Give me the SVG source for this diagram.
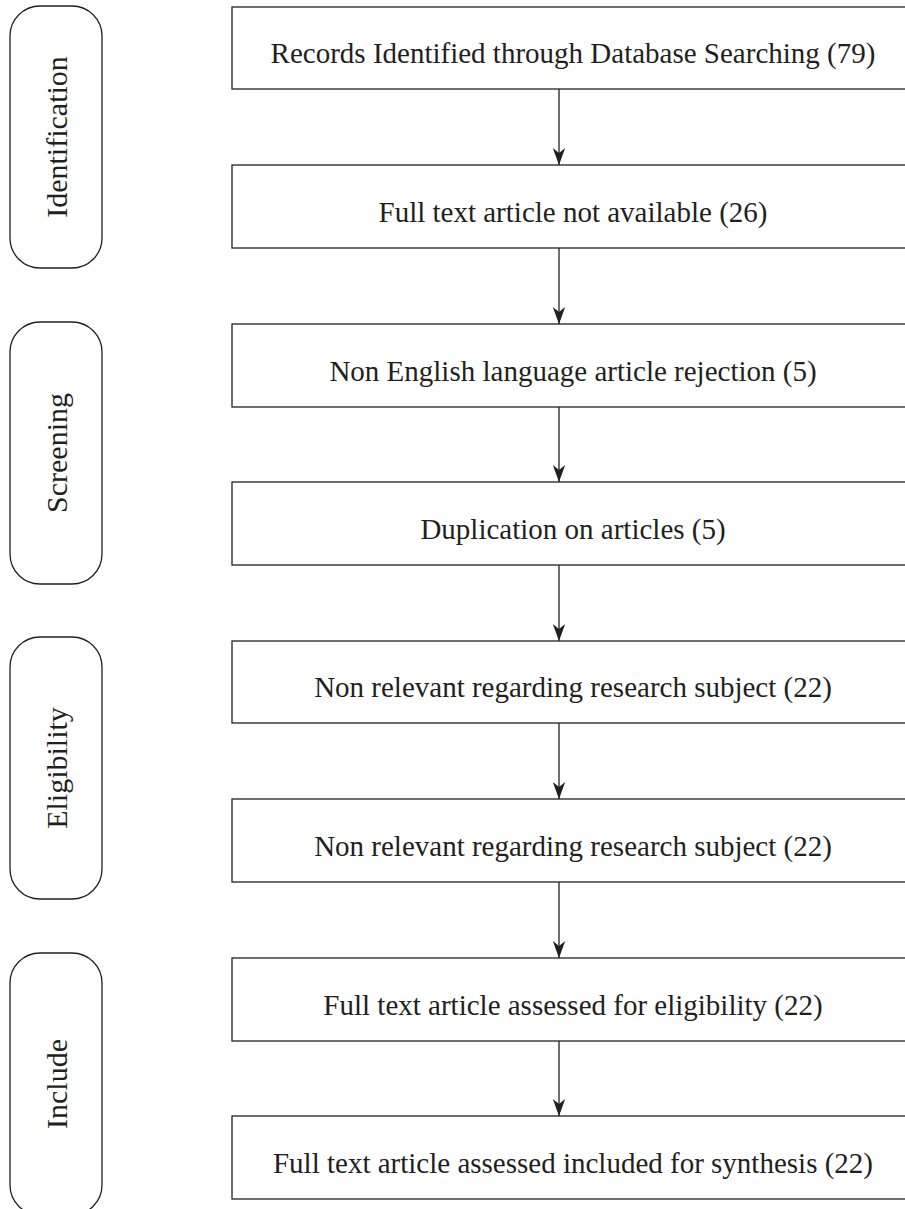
<svg xmlns="http://www.w3.org/2000/svg" width="905" height="1209" viewBox="0 0 905 1209">
<style>
.box{fill:#fff;stroke:#231f20;stroke-width:1.3}
.pill{fill:#fff;stroke:#231f20;stroke-width:1.3}
.t{font-family:"Liberation Serif","Times New Roman",serif;font-size:29px;fill:#231f20;text-anchor:middle}
.v{font-family:"Liberation Serif","Times New Roman",serif;font-size:30px;fill:#231f20;text-anchor:middle}
.c{stroke:#231f20;stroke-width:1.3;fill:none}
</style>
<defs>
<marker id="ah" markerUnits="userSpaceOnUse" markerWidth="18" markerHeight="14" viewBox="0 0 18 14" refX="17" refY="7" orient="auto">
<path d="M0,0.8 L5,7 L0,13.2 L17,7 Z" fill="#231f20"/>
</marker>
</defs>
<rect width="905" height="1209" fill="#fff"/>
<g id="stage-identification"><rect class="pill" x="10" y="6" width="92" height="262" rx="30" ry="30"/><text class="v" transform="translate(67,137) rotate(-90)">Identification</text></g>
<g id="stage-screening"><rect class="pill" x="10" y="322" width="92" height="262" rx="30" ry="30"/><text class="v" transform="translate(67,453) rotate(-90)">Screening</text></g>
<g id="stage-eligibility"><rect class="pill" x="10" y="637" width="92" height="262" rx="30" ry="30"/><text class="v" transform="translate(67,768) rotate(-90)">Eligibility</text></g>
<g id="stage-include"><rect class="pill" x="10" y="953" width="92" height="262" rx="30" ry="30"/><text class="v" transform="translate(67,1084) rotate(-90)">Include</text></g>
<g id="n1"><rect class="box" x="232" y="7" width="682" height="82"/><text class="t" x="573" y="63">Records Identified through Database Searching (79)</text></g>
<g id="n2"><rect class="box" x="232" y="165" width="682" height="83"/><text class="t" x="573" y="222">Full text article not available (26)</text></g>
<g id="n3"><rect class="box" x="232" y="324" width="682" height="83"/><text class="t" x="573" y="381">Non English language article rejection (5)</text></g>
<g id="n4"><rect class="box" x="232" y="482" width="682" height="83"/><text class="t" x="573" y="539">Duplication on articles (5)</text></g>
<g id="n5"><rect class="box" x="232" y="641" width="682" height="82"/><text class="t" x="573" y="697">Non relevant regarding research subject (22)</text></g>
<g id="n6"><rect class="box" x="232" y="799" width="682" height="83"/><text class="t" x="573" y="856">Non relevant regarding research subject (22)</text></g>
<g id="n7"><rect class="box" x="232" y="958" width="682" height="83"/><text class="t" x="573" y="1015">Full text article assessed for eligibility (22)</text></g>
<g id="n8"><rect class="box" x="232" y="1116" width="682" height="83"/><text class="t" x="573" y="1173">Full text article assessed included for synthesis (22)</text></g>
<g id="connectors">
<line class="c" x1="559" y1="89" x2="559" y2="165" marker-end="url(#ah)"/>
<line class="c" x1="559" y1="248" x2="559" y2="324" marker-end="url(#ah)"/>
<line class="c" x1="559" y1="407" x2="559" y2="482" marker-end="url(#ah)"/>
<line class="c" x1="559" y1="565" x2="559" y2="641" marker-end="url(#ah)"/>
<line class="c" x1="559" y1="723" x2="559" y2="799" marker-end="url(#ah)"/>
<line class="c" x1="559" y1="882" x2="559" y2="958" marker-end="url(#ah)"/>
<line class="c" x1="559" y1="1041" x2="559" y2="1116" marker-end="url(#ah)"/>
</g>
</svg>
